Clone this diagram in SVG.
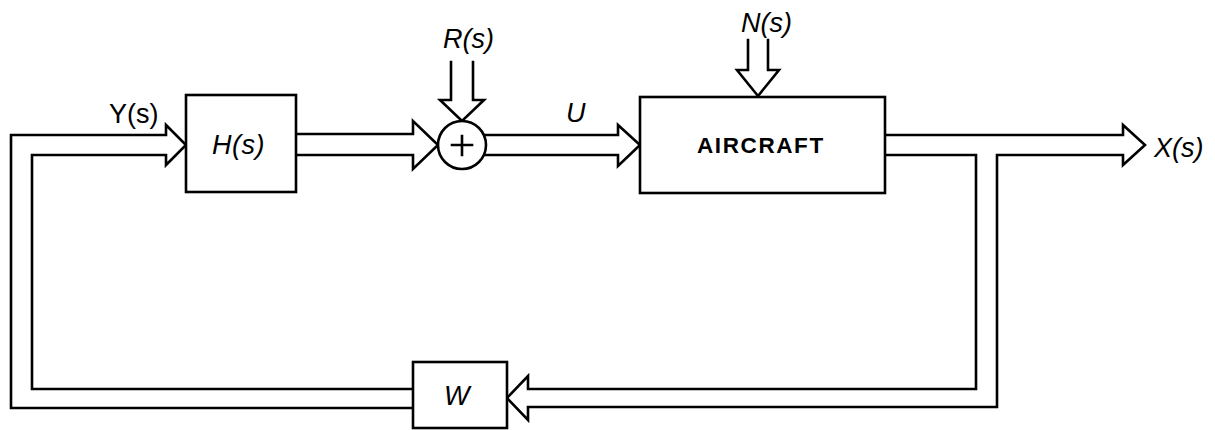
<svg xmlns="http://www.w3.org/2000/svg" width="1215" height="430" viewBox="0 0 1215 430">
<style>
.ln{fill:none;stroke:#000;stroke-width:2.6;stroke-linejoin:miter;stroke-linecap:square}
.bx{fill:#fff;stroke:#000;stroke-width:2.6}
.t{font-family:"Liberation Sans",Arial,sans-serif;font-size:27px;fill:#000}
.i{font-style:italic}
.b{font-weight:bold;font-size:22.5px;letter-spacing:1.6px}
</style>
<rect width="1215" height="430" fill="#fff"/>
<g id="connectors">
<path class="ln" d="M413,408 H11 V135 H166 V125 L186,145 L166,165 V155 H32 V389 H413"/>
<path class="ln" d="M296,134 H413 V121 L438,145 L413,169 V155 H296"/>
<path class="ln" d="M484,135 H618 V125 L640,145 L618,166 V155 H484"/>
<path class="ln" d="M451,62 V100 H440 L462,121 L484,100 H473 V62"/>
<path class="ln" d="M748,40 V70 H737 L758,96 L779,70 H768 V40"/>
<path class="ln" d="M885,135 H1123 V125 L1145,145 L1123,165 V155 H997 V407 H528 V420 L507,398 L528,376 V389 H976 V155 H885"/>
</g>
<g id="label-Y">
<text class="t" x="109" y="123">Y(s)</text>
</g>
<g id="node-H">
<rect class="bx" x="186" y="95" width="110" height="97"/>
<text class="t i" x="212" y="154" letter-spacing="0.5">H(s)</text>
</g>
<g id="node-sum">
<circle class="bx" cx="462" cy="145" r="24"/>
<path class="ln" d="M452,145 H472 M462,136 V155"/>
</g>
<g id="label-R">
<text class="t i" x="443" y="48">R(s)</text>
</g>
<g id="label-U">
<text class="t i" x="566" y="122">U</text>
</g>
<g id="node-aircraft">
<rect class="bx" x="640" y="97" width="245" height="96"/>
<text class="t b" x="697" y="153">AIRCRAFT</text>
</g>
<g id="label-N">
<text class="t i" x="741" y="32">N(s)</text>
</g>
<g id="label-X">
<text class="t i" x="1154" y="157">X(s)</text>
</g>
<g id="node-W">
<rect class="bx" x="413" y="362" width="94" height="66"/>
<text class="t i" x="444" y="405" font-size="28">W</text>
</g>
</svg>
